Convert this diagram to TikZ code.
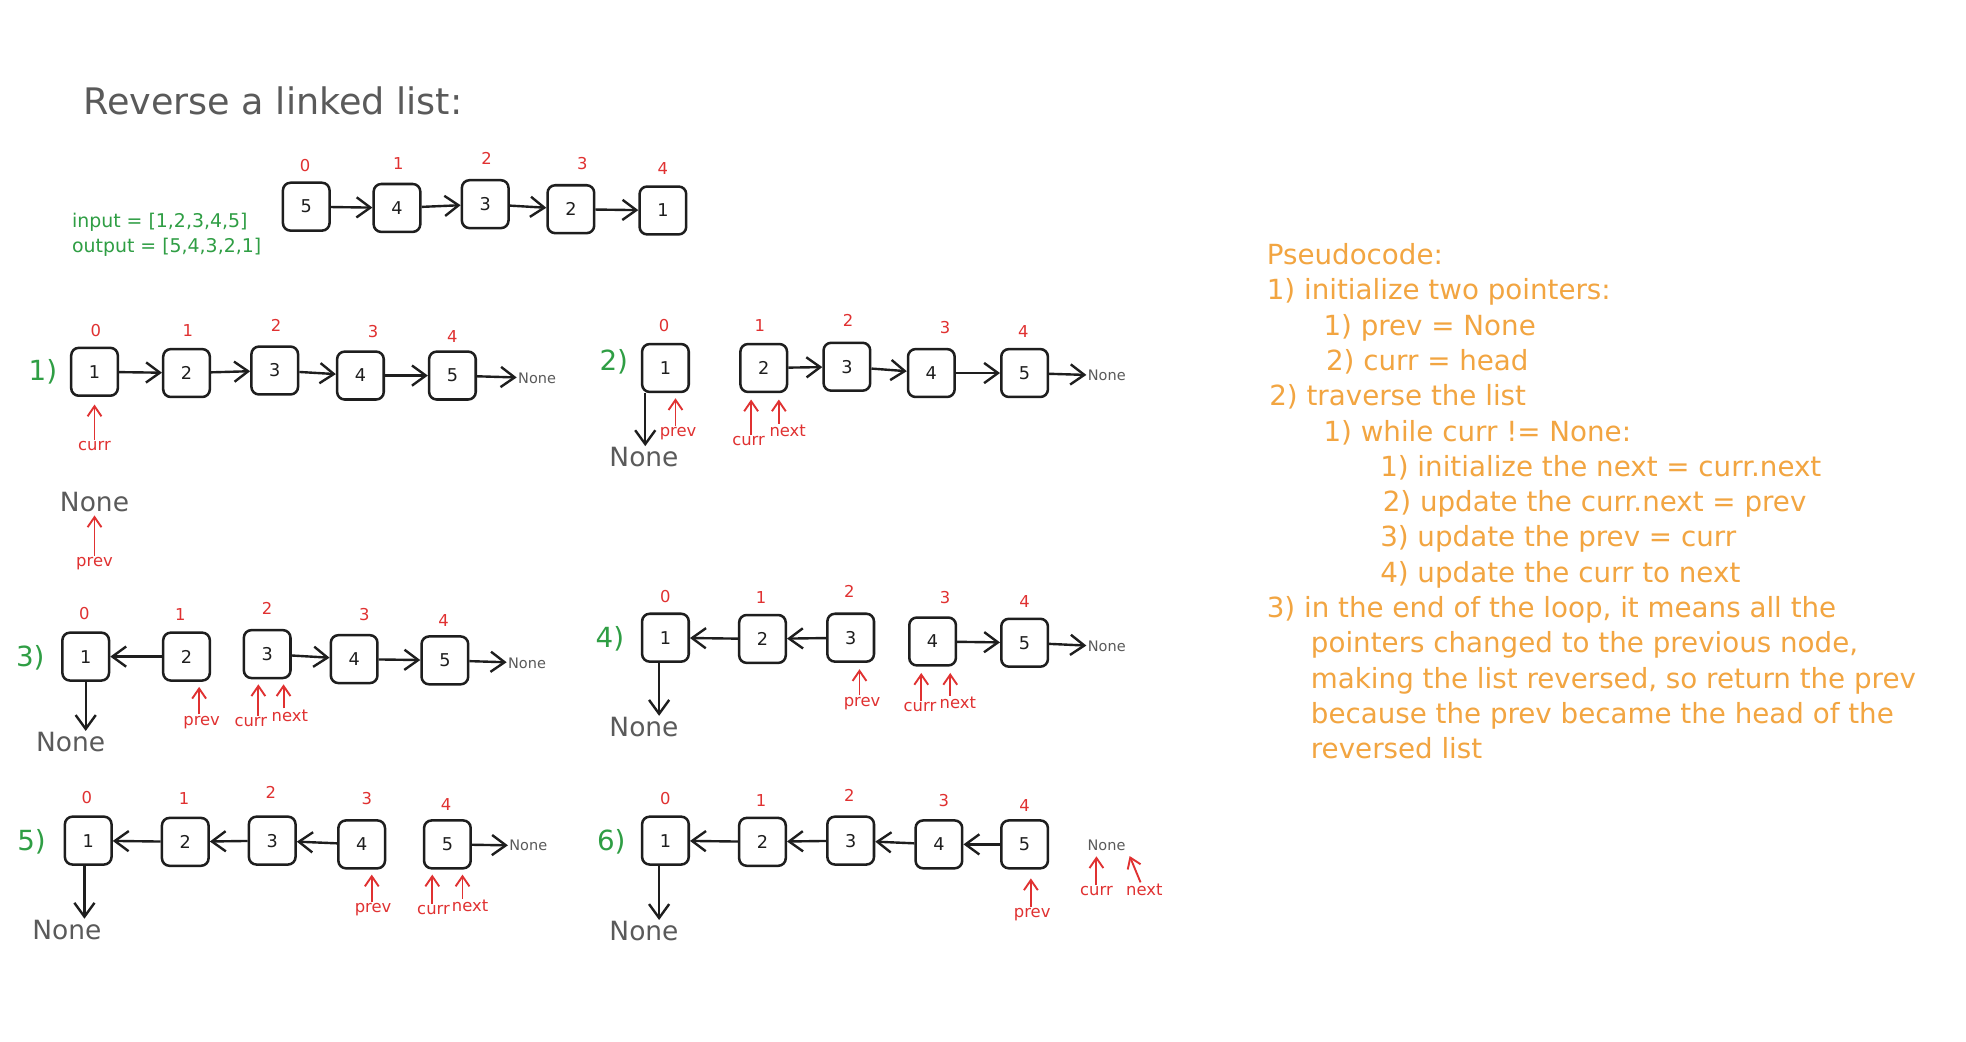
\documentclass[tikz,border=0pt]{standalone}
\usepackage{fontspec}
\setmainfont{DejaVu Sans}
\usetikzlibrary{arrows.meta}
\definecolor{ink}{HTML}{1E1E1E}
\definecolor{redp}{HTML}{E03131}
\definecolor{grn}{HTML}{2F9E44}
\definecolor{gry}{HTML}{5A5A5A}
\definecolor{orng}{HTML}{F2A541}
\tikzset{
  lbox/.style={draw=ink, line width=2pt, rounded corners=6pt, minimum width=37pt, minimum height=38pt, inner sep=0pt, text=ink, font=\fontsize{14}{14}\selectfont},
  idx/.style={text=redp, inner sep=1pt, font=\fontsize{13}{13}\selectfont},
  arr/.style={draw=ink, line width=1.9pt, arrows={-Straight Barb[length=11pt 0, width=16pt 0, line width=1.9pt]}},
  parr/.style={draw=redp, line width=1.5pt, arrows={-Straight Barb[length=8pt 0, width=11pt 0, line width=1.5pt]}},
  ptr/.style={text=redp, inner sep=1pt, font=\fontsize{13}{13}\selectfont},
  stp/.style={text=grn, inner sep=1pt, font=\fontsize{22}{22}\selectfont},
  bignone/.style={text=gry, inner sep=1pt, font=\fontsize{21}{21}\selectfont},
  smallnone/.style={text=gry, inner sep=1pt, font=\fontsize{11.5}{11.5}\selectfont},
  code/.style={text=orng, inner sep=0pt, anchor=base west, font=\fontsize{22}{28}\selectfont},
  io/.style={text=grn, inner sep=0pt, anchor=west, font=\fontsize{15}{15}\selectfont},
}
\begin{document}
\begin{tikzpicture}[x=1pt,y=-1pt]
\useasboundingbox (0,0) rectangle (1560,826.8);
\fill[white] (0,0) rectangle (1560,826.8);

% title
\node[text=gry, anchor=west, inner sep=0pt, font=\fontsize{29}{29}\selectfont] (title) at (66,80) {Reverse a linked list:};

% input / output
\node[io] (inp) at (57,176) {input = [1,2,3,4,5]};
\node[io] (outp) at (57,196) {output = [5,4,3,2,1]};

% top list
\node[lbox] (t1) at (243,164) {5};
\node[lbox] (t2) at (315,165) {4};
\node[lbox] (t3) at (385,162) {3};
\node[lbox] (t4) at (453,166) {2};
\node[lbox] (t5) at (526,167) {1};
\node[idx] (ti1) at (242,131) {0};
\node[idx] (ti2) at (316,130) {1};
\node[idx] (ti3) at (386,126) {2};
\node[idx] (ti4) at (462,130) {3};
\node[idx] (ti5) at (526,134) {4};
\draw[arr] (t1) -- (t2);
\draw[arr] (t2) -- (t3);
\draw[arr] (t3) -- (t4);
\draw[arr] (t4) -- (t5);

% ---------- step 1
\node[stp] (l1) at (34,295) {1)};
\node[lbox] (s1a) at (75,295) {1};
\node[lbox] (s1b) at (148,296) {2};
\node[lbox] (s1c) at (218,294) {3};
\node[lbox] (s1d) at (286,298) {4};
\node[lbox] (s1e) at (359,298) {5};
\node[idx] (s1ia) at (76,262) {0};
\node[idx] (s1ib) at (149,262) {1};
\node[idx] (s1ic) at (219,258) {2};
\node[idx] (s1id) at (296,263) {3};
\node[idx] (s1ie) at (359,267) {4};
\node[smallnone, anchor=west] (s1n) at (410,300) {None};
\draw[arr] (s1a) -- (s1b);
\draw[arr] (s1b) -- (s1c);
\draw[arr] (s1c) -- (s1d);
\draw[arr] (s1d) -- (s1e);
\draw[arr] (s1e) -- (s1n);
\node[ptr] (s1curr) at (75,354) {curr};
\draw[parr, shorten >=6pt] (s1curr.north) -- (s1curr.north |- s1a.south);
\node[bignone] (s1none) at (75,398) {None};
\node[ptr] (s1prev) at (75,447) {prev};
\draw[parr, shorten >=2pt] (s1prev.north) -- (s1none.south);

% ---------- step 2
\node[stp] (l2) at (487,287) {2)};
\node[lbox] (s2a) at (528,292) {1};
\node[lbox] (s2b) at (606,292) {2};
\node[lbox] (s2c) at (672,291) {3};
\node[lbox] (s2d) at (739,296) {4};
\node[lbox] (s2e) at (813,296) {5};
\node[idx] (s2ia) at (527,258) {0};
\node[idx] (s2ib) at (603,258) {1};
\node[idx] (s2ic) at (673,254) {2};
\node[idx] (s2id) at (750,260) {3};
\node[idx] (s2ie) at (812,263) {4};
\node[smallnone, anchor=west] (s2n) at (862,298) {None};
\draw[arr] (s2b) -- (s2c);
\draw[arr] (s2c) -- (s2d);
\draw[arr] (s2d) -- (s2e);
\draw[arr] (s2e) -- (s2n);
\node[bignone] (s2none) at (511,363) {None};
\draw[arr] ([xshift=-16pt]s2a.south) -- ([xshift=-16pt]s2a.south |- s2none.north);
\node[ptr] (s2prev) at (538,344) {prev};
\draw[parr, shorten >=4pt] ([xshift=-2pt]s2prev.north) -- ([xshift=-2pt]s2prev.north |- s2a.south);
\node[ptr] (s2curr) at (594,350) {curr};
\draw[parr, shorten >=5pt] ([xshift=2pt]s2curr.north) -- ([xshift=2pt]s2curr.north |- s2b.south);
\node[ptr] (s2next) at (625,342) {next};
\draw[parr, shorten >=5pt] ([xshift=-7pt]s2next.north) -- ([xshift=-7pt]s2next.north |- s2b.south);

% ---------- step 3
\node[stp] (l3) at (24,522) {3)};
\node[lbox] (s3a) at (68,521) {1};
\node[lbox] (s3b) at (148,521) {2};
\node[lbox] (s3c) at (212,519) {3};
\node[lbox] (s3d) at (281,523) {4};
\node[lbox] (s3e) at (353,524) {5};
\node[idx] (s3ia) at (67,487) {0};
\node[idx] (s3ib) at (143,488) {1};
\node[idx] (s3ic) at (212,483) {2};
\node[idx] (s3id) at (289,488) {3};
\node[idx] (s3ie) at (352,492) {4};
\node[smallnone, anchor=west] (s3n) at (402,526) {None};
\draw[arr] (s3b) -- (s3a);
\draw[arr] (s3c) -- (s3d);
\draw[arr] (s3d) -- (s3e);
\draw[arr] (s3e) -- (s3n);
\node[bignone] (s3none) at (56,589) {None};
\draw[arr] (s3a.south) -- (s3a.south |- s3none.north);
\node[ptr] (s3prev) at (160,573) {prev};
\draw[parr, shorten >=4pt] ([xshift=-2pt]s3prev.north) -- ([xshift=-2pt]s3prev.north |- s3b.south);
\node[ptr] (s3curr) at (199,573) {curr};
\draw[parr, shorten >=4pt] ([xshift=6pt]s3curr.north) -- ([xshift=6pt]s3curr.north |- s3c.south);
\node[ptr] (s3next) at (230,568) {next};
\draw[parr, shorten >=4pt] ([xshift=-5pt]s3next.north) -- ([xshift=-5pt]s3next.north |- s3c.south);

% ---------- step 4
\node[stp] (l4) at (484,507) {4)};
\node[lbox] (s4a) at (528,506) {1};
\node[lbox] (s4b) at (605,507) {2};
\node[lbox] (s4c) at (675,506) {3};
\node[lbox] (s4d) at (740,509) {4};
\node[lbox] (s4e) at (813,510) {5};
\node[idx] (s4ia) at (528,473) {0};
\node[idx] (s4ib) at (604,474) {1};
\node[idx] (s4ic) at (674,469) {2};
\node[idx] (s4id) at (750,474) {3};
\node[idx] (s4ie) at (813,477) {4};
\node[smallnone, anchor=west] (s4n) at (862,513) {None};
\draw[arr] (s4b) -- (s4a);
\draw[arr] (s4c) -- (s4b);
\draw[arr] (s4d) -- (s4e);
\draw[arr] (s4e) -- (s4n);
\node[bignone] (s4none) at (511,577) {None};
\draw[arr] ([xshift=-5pt]s4a.south) -- ([xshift=-5pt]s4a.south |- s4none.north);
\node[ptr] (s4prev) at (684,558) {prev};
\draw[parr, shorten >=5pt] ([xshift=-2pt]s4prev.north) -- ([xshift=-2pt]s4prev.north |- s4c.south);
\node[ptr] (s4curr) at (730,561) {curr};
\draw[parr, shorten >=5pt] ([xshift=1pt]s4curr.north) -- ([xshift=1pt]s4curr.north |- s4d.south);
\node[ptr] (s4next) at (760,558) {next};
\draw[parr, shorten >=5pt] ([xshift=-6pt]s4next.north) -- ([xshift=-6pt]s4next.north |- s4d.south);

% ---------- step 5
\node[stp] (l5) at (25,668) {5)};
\node[lbox] (s5a) at (70,667) {1};
\node[lbox] (s5b) at (147,668) {2};
\node[lbox] (s5c) at (216,667) {3};
\node[lbox] (s5d) at (287,670) {4};
\node[lbox] (s5e) at (355,670) {5};
\node[idx] (s5ia) at (69,633) {0};
\node[idx] (s5ib) at (146,634) {1};
\node[idx] (s5ic) at (215,629) {2};
\node[idx] (s5id) at (291,634) {3};
\node[idx] (s5ie) at (354,638) {4};
\node[smallnone, anchor=west] (s5n) at (403,671) {None};
\draw[arr] (s5b) -- (s5a);
\draw[arr] (s5c) -- (s5b);
\draw[arr] (s5d) -- (s5c);
\draw[arr] (s5e) -- (s5n);
\node[bignone] (s5none) at (53,738) {None};
\draw[arr] ([xshift=-3pt]s5a.south) -- ([xshift=-3pt]s5a.south |- s5none.north);
\node[ptr] (s5prev) at (296,722) {prev};
\draw[parr, shorten >=4pt] ([xshift=-1pt]s5prev.north) -- ([xshift=-1pt]s5prev.north |- s5d.south);
\node[ptr] (s5curr) at (344,722) {curr};
\draw[parr, shorten >=4pt] ([xshift=-1pt]s5curr.north) -- ([xshift=-1pt]s5curr.north |- s5e.south);
\node[ptr] (s5next) at (373,719) {next};
\draw[parr, shorten >=4pt] ([xshift=-6pt]s5next.north) -- ([xshift=-6pt]s5next.north |- s5e.south);

% ---------- step 6
\node[stp] (l6) at (485,668) {6)};
\node[lbox] (s6a) at (528,667) {1};
\node[lbox] (s6b) at (605,668) {2};
\node[lbox] (s6c) at (675,667) {3};
\node[lbox] (s6d) at (745,670) {4};
\node[lbox] (s6e) at (813,670) {5};
\node[idx] (s6ia) at (528,634) {0};
\node[idx] (s6ib) at (604,635) {1};
\node[idx] (s6ic) at (674,631) {2};
\node[idx] (s6id) at (749,635) {3};
\node[idx] (s6ie) at (813,639) {4};
\draw[arr] (s6b) -- (s6a);
\draw[arr] (s6c) -- (s6b);
\draw[arr] (s6d) -- (s6c);
\draw[arr] (s6e) -- (s6d);
\node[smallnone] (s6n) at (878,671) {None};
\node[bignone] (s6none) at (511,739) {None};
\draw[arr] ([xshift=-5pt]s6a.south) -- ([xshift=-5pt]s6a.south |- s6none.north);
\node[ptr] (s6prev) at (819,726) {prev};
\draw[parr, shorten >=7pt] ([xshift=-1pt]s6prev.north) -- ([xshift=-1pt]s6prev.north |- s6e.south);
\node[ptr] (s6curr) at (870,707) {curr};
\draw[parr, shorten >=3pt] (s6curr.north) -- (s6curr.north |- s6n.south);
\node[ptr] (s6next) at (908,706) {next};
\draw[parr, shorten >=3pt] ([xshift=-3pt]s6next.north) -- ([xshift=1pt]s6n.south east);

% ---------- pseudocode
\node[code] (c1) at (1005,210) {Pseudocode:};
\node[code] (c2) at (1005,238) {1) initialize two pointers:};
\node[code] (c3) at (1050,266) {1) prev = None};
\node[code] (c4) at (1052,294) {2) curr = head};
\node[code] (c5) at (1007,322) {2) traverse the list};
\node[code] (c6) at (1050,350) {1) while curr != None:};
\node[code] (c7) at (1095,378) {1) initialize the next = curr.next};
\node[code] (c8) at (1097,406) {2) update the curr.next = prev};
\node[code] (c9) at (1095,434) {3) update the prev = curr};
\node[code] (c10) at (1095,462) {4) update the curr to next};
\node[code] (c11) at (1005,490) {3) in the end of the loop, it means all the};
\node[code] (c12) at (1040,518) {pointers changed to the previous node,};
\node[code] (c13) at (1040,546) {making the list reversed, so return the prev};
\node[code] (c14) at (1040,574) {because the prev became the head of the};
\node[code] (c15) at (1040,602) {reversed list};
\end{tikzpicture}
\end{document}
